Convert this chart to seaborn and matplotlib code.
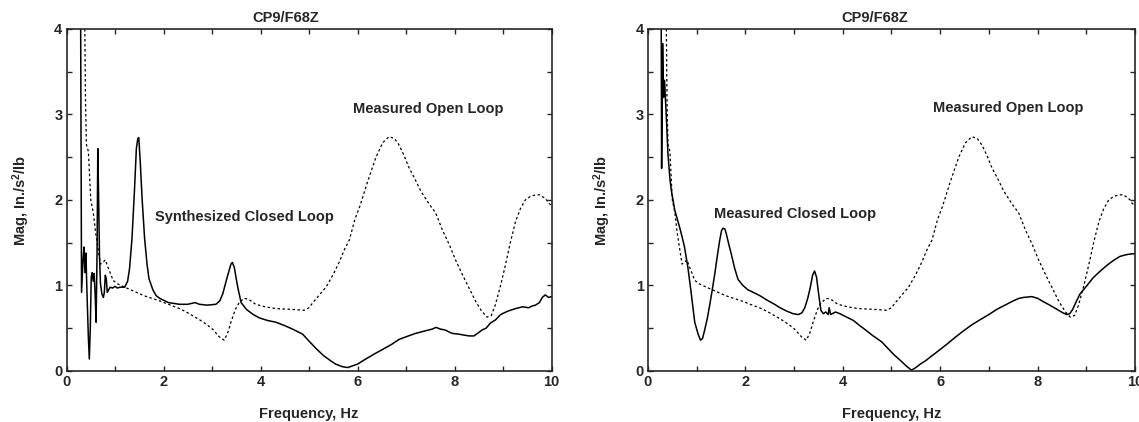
import numpy as np
import pandas as pd
import matplotlib
matplotlib.use("Agg")
import matplotlib.pyplot as plt
import seaborn as sns
from matplotlib.ticker import MultipleLocator

# --- data (frequency in Hz, magnitude in in./s^2/lb) ---
open_freq = [0.37, 0.39, 0.41, 0.45, 0.50, 0.55, 0.60, 0.65, 0.70, 0.75, 0.80, 0.85, 0.90, 0.96,
             1.05, 1.20, 1.40, 1.60, 1.92, 2.10, 2.33, 2.50, 2.74, 2.90, 3.01, 3.15, 3.25, 3.32,
             3.39, 3.48, 3.56, 3.66, 3.75, 3.90, 4.10, 4.32, 4.66, 4.90, 5.00, 5.08, 5.20, 5.35,
             5.50, 5.62, 5.73, 5.83, 5.95, 6.05, 6.20, 6.38, 6.52, 6.65, 6.76, 6.86, 6.96, 7.06,
             7.18, 7.30, 7.40, 7.48, 7.61, 7.75, 7.89, 8.02, 8.16, 8.30, 8.44, 8.56, 8.67, 8.76,
             8.84, 8.95, 9.05, 9.15, 9.26, 9.36, 9.46, 9.56, 9.67, 9.76, 9.84, 9.90, 9.94, 10.0]
open_mag = [4.50, 3.20, 2.65, 2.57, 2.00, 1.86, 1.62, 1.43, 1.25, 1.27, 1.30, 1.22, 1.15, 1.06,
            1.02, 0.98, 0.93, 0.88, 0.82, 0.78, 0.73, 0.68, 0.60, 0.54, 0.49, 0.40, 0.36, 0.44,
            0.57, 0.72, 0.80, 0.85, 0.84, 0.78, 0.75, 0.73, 0.72, 0.71, 0.74, 0.80, 0.88, 0.98,
            1.13, 1.27, 1.42, 1.53, 1.78, 1.93, 2.20, 2.50, 2.67, 2.74, 2.72, 2.64, 2.52, 2.38,
            2.25, 2.11, 2.02, 1.95, 1.85, 1.65, 1.48, 1.30, 1.13, 0.97, 0.81, 0.70, 0.63, 0.65,
            0.77, 1.00, 1.24, 1.50, 1.75, 1.90, 2.00, 2.04, 2.06, 2.06, 2.03, 2.00, 1.96, 1.94]

synth_freq = [0.29, 0.31, 0.34, 0.36, 0.38, 0.40, 0.42, 0.45, 0.47, 0.49, 0.51, 0.53, 0.55, 0.57,
              0.59, 0.61, 0.63, 0.645, 0.66, 0.68, 0.70, 0.73, 0.76, 0.78, 0.80, 0.82, 0.84, 0.87,
              0.90, 0.95, 1.00, 1.05, 1.10, 1.20, 1.26, 1.30, 1.35, 1.40, 1.44, 1.47, 1.49, 1.52,
              1.56, 1.61, 1.66, 1.70, 1.78, 1.85, 1.92, 2.10, 2.33, 2.50, 2.65, 2.74, 2.90, 3.08,
              3.16, 3.22, 3.31, 3.39, 3.42, 3.46, 3.53, 3.60, 3.71, 3.85, 3.98, 4.15, 4.32, 4.50,
              4.66, 4.87, 5.00, 5.15, 5.30, 5.42, 5.55, 5.69, 5.80, 5.90, 6.00, 6.17, 6.35, 6.51,
              6.70, 6.86, 7.05, 7.20, 7.40, 7.54, 7.62, 7.71, 7.80, 7.95, 8.10, 8.19, 8.30, 8.40,
              8.50, 8.57, 8.65, 8.74, 8.85, 8.95, 9.10, 9.26, 9.40, 9.53, 9.60, 9.67, 9.75, 9.81,
              9.87, 9.94, 10.0]
synth_mag = [4.30, 0.92, 1.30, 1.45, 1.15, 1.38, 0.95, 0.40, 0.14, 0.50, 1.10, 1.15, 1.05, 1.14,
             0.90, 0.57, 1.40, 2.60, 2.10, 1.35, 1.02, 0.90, 0.86, 0.92, 1.12, 1.08, 0.92, 0.95,
             0.98, 0.97, 0.99, 0.97, 0.98, 0.98, 1.05, 1.20, 1.55, 2.10, 2.60, 2.72, 2.73, 2.45,
             2.00, 1.55, 1.25, 1.08, 0.95, 0.88, 0.85, 0.80, 0.78, 0.78, 0.80, 0.78, 0.77, 0.78,
             0.82, 0.90, 1.09, 1.25, 1.27, 1.21, 0.98, 0.80, 0.72, 0.66, 0.62, 0.59, 0.57, 0.53,
             0.49, 0.43, 0.35, 0.26, 0.18, 0.13, 0.08, 0.05, 0.04, 0.06, 0.08, 0.14, 0.20, 0.25,
             0.31, 0.37, 0.41, 0.44, 0.47, 0.49, 0.51, 0.49, 0.48, 0.44, 0.43, 0.42, 0.41, 0.41,
             0.45, 0.48, 0.50, 0.56, 0.60, 0.66, 0.70, 0.73, 0.75, 0.74, 0.76, 0.77, 0.80, 0.86,
             0.89, 0.86, 0.87]

closed_freq = [0.27, 0.28, 0.30, 0.32, 0.34, 0.38, 0.41, 0.45, 0.48, 0.55, 0.60, 0.65, 0.70, 0.75,
               0.82, 0.89, 0.96, 1.03, 1.08, 1.12, 1.16, 1.22, 1.27, 1.32, 1.37, 1.42, 1.47, 1.51,
               1.54, 1.58, 1.61, 1.66, 1.71, 1.78, 1.85, 1.95, 2.05, 2.16, 2.30, 2.44, 2.60, 2.71,
               2.85, 2.98, 3.09, 3.16, 3.22, 3.28, 3.33, 3.38, 3.42, 3.46, 3.50, 3.55, 3.60, 3.65,
               3.70, 3.72, 3.75, 3.85, 3.94, 4.08, 4.22, 4.35, 4.49, 4.60, 4.70, 4.80, 4.90, 5.05,
               5.17, 5.30, 5.41, 5.50, 5.59, 5.70, 5.79, 5.95, 6.13, 6.30, 6.48, 6.65, 6.82, 7.00,
               7.16, 7.33, 7.50, 7.62, 7.71, 7.88, 8.00, 8.12, 8.25, 8.40, 8.52, 8.60, 8.66, 8.72,
               8.80, 8.87, 9.00, 9.14, 9.27, 9.41, 9.55, 9.69, 9.82, 9.93, 10.0]
closed_mag = [4.50, 2.37, 3.83, 3.20, 3.40, 2.93, 2.54, 2.25, 2.11, 1.88, 1.78, 1.68, 1.57, 1.45,
              1.21, 0.90, 0.57, 0.43, 0.36, 0.38, 0.47, 0.62, 0.78, 0.95, 1.13, 1.33, 1.52, 1.64,
              1.67, 1.66, 1.60, 1.48, 1.37, 1.20, 1.07, 1.00, 0.95, 0.92, 0.88, 0.83, 0.78, 0.74,
              0.70, 0.67, 0.66, 0.68, 0.74, 0.85, 0.97, 1.12, 1.17, 1.10, 0.92, 0.71, 0.67, 0.69,
              0.66, 0.74, 0.66, 0.69, 0.67, 0.63, 0.59, 0.53, 0.47, 0.42, 0.38, 0.34, 0.28, 0.19,
              0.13, 0.06, 0.01, 0.04, 0.08, 0.12, 0.16, 0.23, 0.31, 0.39, 0.47, 0.54, 0.60, 0.66,
              0.72, 0.77, 0.82, 0.85, 0.86, 0.87, 0.85, 0.81, 0.77, 0.72, 0.68, 0.66, 0.67, 0.72,
              0.82, 0.90, 0.99, 1.09, 1.16, 1.23, 1.29, 1.34, 1.36, 1.37, 1.37]

panel_titles = ["CP9/F68Z", "CP9/F68Z"]
closed_labels = ["Synthesized Closed Loop", "Measured Closed Loop"]
open_label = "Measured Open Loop"

sns.set_style("ticks")
plt.rcParams['font.family'] = ['Liberation Sans', 'DejaVu Sans']
plt.rcParams['font.weight'] = 'bold'
plt.rcParams['mathtext.fontset'] = 'custom'
plt.rcParams['mathtext.rm'] = 'Liberation Sans:bold'
plt.rcParams['mathtext.bf'] = 'Liberation Sans:bold'
plt.rcParams['mathtext.default'] = 'bf'

open_df = pd.DataFrame({"freq": open_freq, "mag": open_mag})
closed_dfs = [pd.DataFrame({"freq": synth_freq, "mag": synth_mag}),
              pd.DataFrame({"freq": closed_freq, "mag": closed_mag})]

fig = plt.figure(figsize=(11.39, 4.22), dpi=100)
axes = [fig.add_axes([0.0584, 0.1209, 0.4258, 0.8104]),
        fig.add_axes([0.5689, 0.1209, 0.4276, 0.8104])]

# label positions (data coords) and title x offset per panel
closed_txt = [(1.83, 1.80), (1.36, 1.84)]
open_txt = [(5.91, 3.06), (5.85, 3.08)]
title_x = [0.452, 0.466]

for i, ax in enumerate(axes):
    sns.lineplot(data=closed_dfs[i], x="freq", y="mag", ax=ax, sort=False, estimator=None,
                 color="black", linewidth=1.1)
    sns.lineplot(data=open_df, x="freq", y="mag", ax=ax, sort=False, estimator=None,
                 color="black", linewidth=0.9, linestyle=(0, (2, 2)))
    ax.set_xlim(0, 10)
    ax.set_ylim(0, 4)
    ax.xaxis.set_major_locator(MultipleLocator(2))
    ax.xaxis.set_minor_locator(MultipleLocator(1))
    ax.yaxis.set_major_locator(MultipleLocator(1))
    ax.yaxis.set_minor_locator(MultipleLocator(0.5))
    ax.tick_params(which="both", direction="in", top=True, right=True, length=3.5, width=1,
                   labelsize=10.5, pad=3)
    for s in ax.spines.values():
        s.set_linewidth(1.2)
    ax.set_xlabel("Frequency, Hz", fontsize=10.5, fontweight="bold", labelpad=13)
    ax.set_ylabel(r"Mag, In./s$^2$/lb", fontsize=10.5, fontweight="bold", labelpad=16)
    ax.set_title(panel_titles[i], fontsize=10.5, fontweight="bold", x=title_x[i], pad=5)
    ax.text(closed_txt[i][0], closed_txt[i][1], closed_labels[i], fontsize=10.5,
            fontweight="bold", va="center", ha="left")
    ax.text(open_txt[i][0], open_txt[i][1], open_label, fontsize=10.5,
            fontweight="bold", va="center", ha="left")

fig.savefig("out.png", dpi=100)
